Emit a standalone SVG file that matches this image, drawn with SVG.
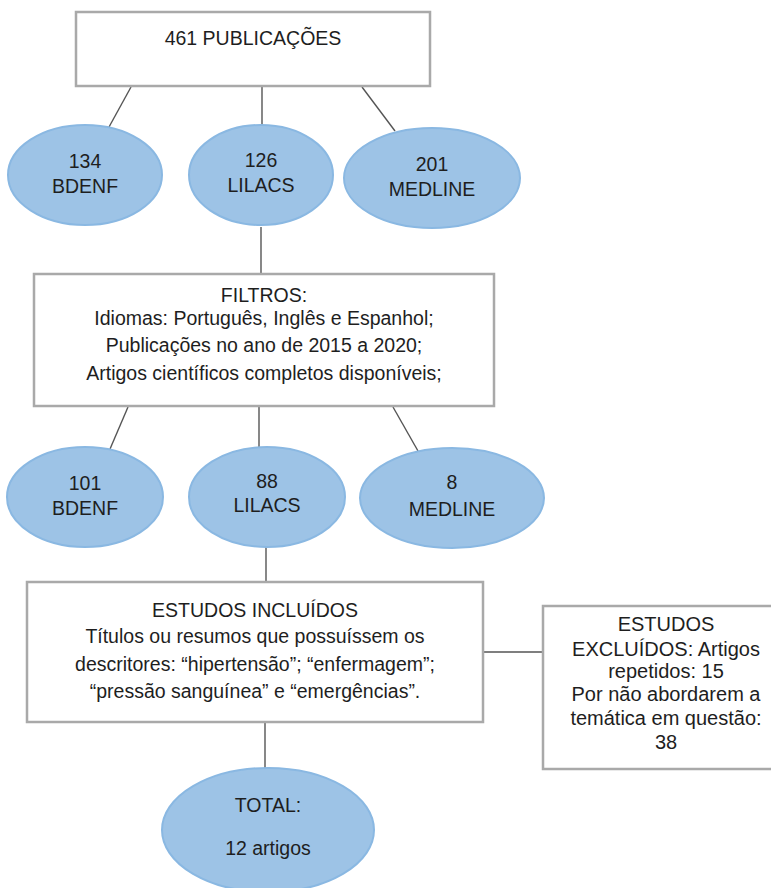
<svg xmlns="http://www.w3.org/2000/svg" width="771" height="888" viewBox="0 0 771 888">
<defs>
<style>
.box{fill:#fff;stroke:#a9a9a9;stroke-width:2.5}
.ell{fill:#9dc3e6;stroke:#8ab8e2;stroke-width:2}
.ln{stroke:#555;stroke-width:1.4;fill:none}
text{font-family:"Liberation Sans",Arial,sans-serif;font-size:19.5px;fill:#1e1e1e;text-anchor:middle}
.ex{font-size:20px}
</style>
</defs>
<rect width="771" height="888" fill="#fff"/>
<g id="connectors">
<line class="ln" x1="131" y1="87" x2="109" y2="127"/>
<line class="ln" x1="262" y1="87" x2="262" y2="125"/>
<line class="ln" x1="362" y1="87" x2="395" y2="131"/>
<line class="ln" x1="261" y1="227" x2="261" y2="274"/>
<line class="ln" x1="128" y1="407" x2="110" y2="449"/>
<line class="ln" x1="259" y1="407" x2="259" y2="447"/>
<line class="ln" x1="393" y1="407" x2="418" y2="451"/>
<line class="ln" x1="266" y1="547" x2="266" y2="583"/>
<line class="ln" x1="483" y1="652" x2="542" y2="652"/>
<line class="ln" x1="265" y1="722" x2="265" y2="768"/>
</g>
<g id="n-publicacoes">
<rect class="box" x="76" y="12" width="354" height="74"/>
<text x="253" y="45">461 PUBLICAÇÕES</text>
</g>
<g id="n-bdenf1">
<ellipse class="ell" cx="85" cy="175" rx="77" ry="50"/>
<text x="85" y="168">134</text>
<text x="85" y="193">BDENF</text>
</g>
<g id="n-lilacs1">
<ellipse class="ell" cx="261" cy="175" rx="72" ry="50"/>
<text x="261" y="167">126</text>
<text x="261" y="192">LILACS</text>
</g>
<g id="n-medline1">
<ellipse class="ell" cx="432" cy="178" rx="88" ry="50"/>
<text x="432" y="171">201</text>
<text x="432" y="196">MEDLINE</text>
</g>
<g id="n-filtros">
<rect class="box" x="34" y="274" width="460" height="132"/>
<text x="264" y="302">FILTROS:</text>
<text x="264" y="325">Idiomas: Português, Inglês e Espanhol;</text>
<text x="264" y="352">Publicações no ano de 2015 a 2020;</text>
<text x="264" y="380">Artigos científicos completos disponíveis;</text>
</g>
<g id="n-bdenf2">
<ellipse class="ell" cx="85" cy="497" rx="78" ry="50"/>
<text x="85" y="490">101</text>
<text x="85" y="515">BDENF</text>
</g>
<g id="n-lilacs2">
<ellipse class="ell" cx="267" cy="497" rx="78" ry="50"/>
<text x="267" y="488">88</text>
<text x="267" y="512">LILACS</text>
</g>
<g id="n-medline2">
<ellipse class="ell" cx="452" cy="498" rx="92" ry="50"/>
<text x="452" y="489">8</text>
<text x="452" y="516">MEDLINE</text>
</g>
<g id="n-incluidos">
<rect class="box" x="27" y="582" width="456" height="140"/>
<text x="255" y="617">ESTUDOS INCLUÍDOS</text>
<text x="255" y="643">Títulos ou resumos que possuíssem os</text>
<text x="255" y="671">descritores: “hipertensão”; “enfermagem”;</text>
<text x="255" y="698">“pressão sanguínea” e “emergências”.</text>
</g>
<g id="n-excluidos">
<rect class="box" x="543" y="606" width="240" height="163"/>
<text class="ex" x="666" y="631">ESTUDOS</text>
<text class="ex" x="666" y="656">EXCLUÍDOS: Artigos</text>
<text class="ex" x="666" y="678">repetidos: 15</text>
<text class="ex" x="666" y="701">Por não abordarem a</text>
<text class="ex" x="666" y="725">temática em questão:</text>
<text class="ex" x="666" y="749">38</text>
</g>
<g id="n-total">
<ellipse class="ell" cx="268" cy="830" rx="106" ry="62"/>
<text x="268" y="812">TOTAL:</text>
<text x="268" y="855">12 artigos</text>
</g>
</svg>
